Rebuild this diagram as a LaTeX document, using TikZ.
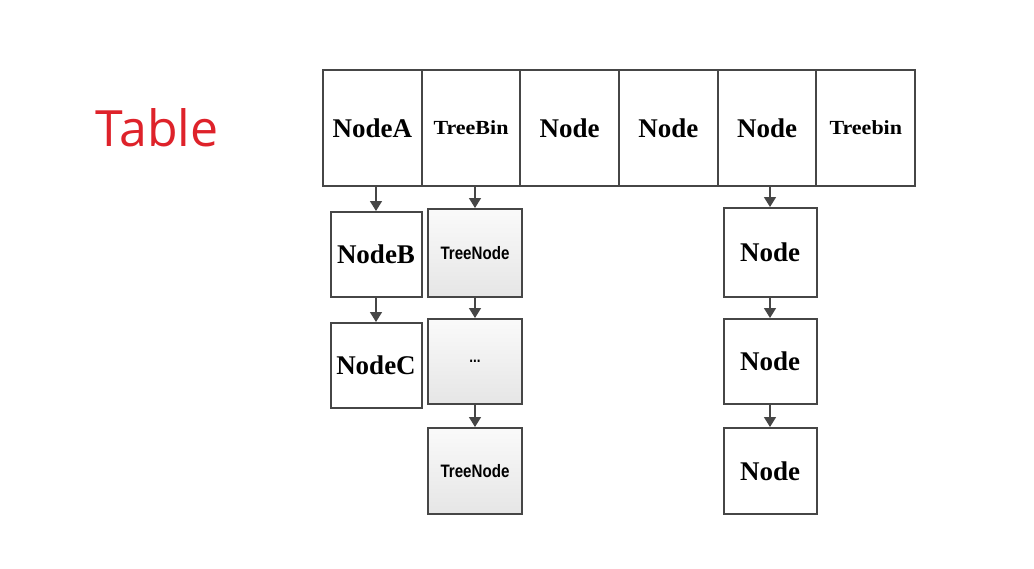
\documentclass[tikz,border=0pt]{standalone}
\usepackage{fontspec}
\setmainfont{Liberation Serif}
\newfontfamily\titlefont{Open Sans}
\newfontfamily\widebold[FakeStretch=1.1]{Liberation Serif}
\newfontfamily\narrowsans[FakeStretch=0.84]{Liberation Sans}
\usetikzlibrary{arrows.meta,positioning}
\definecolor{tablered}{RGB}{222,34,42}
\definecolor{boxline}{RGB}{70,70,70}
\newcommand{\binlabel}[1]{{\widebold\fontsize{20}{22}\selectfont\bfseries #1}}

\begin{document}
\begin{tikzpicture}[
    x=1pt,y=-1pt,
    node distance=20pt,
    cell/.style={rectangle,draw=boxline,line width=2pt,outer sep=0pt,inner sep=0pt,
      minimum width=98.7pt,minimum height=116pt,font=\fontsize{27}{30}\selectfont\bfseries},
    plain/.style={rectangle,draw=boxline,line width=2pt,fill=white,inner sep=0pt,
      minimum width=93pt,minimum height=86pt,font=\fontsize{27}{30}\selectfont\bfseries},
    tree/.style={rectangle,draw=boxline,line width=2pt,top color=gray!4,bottom color=gray!20,inner sep=0pt,
      minimum width=94pt,minimum height=86pt,font=\narrowsans\fontsize{18}{20}\selectfont\bfseries},
    arrow/.style={-{Triangle[length=10pt,width=12pt]},line width=1.5pt,draw=boxline}
  ]
    \useasboundingbox (0,0) rectangle (1034,568);
    \node[font=\titlefont\fontsize{50}{56}\selectfont,text=tablered] (title) at (157,128) {Table};

    % table row
    \node[cell] (nodeA) at (372.3,128) {NodeA};
    \node[cell,right=0pt of nodeA] (treeBin) {\binlabel{TreeBin}};
    \node[cell,right=0pt of treeBin] (node3) {Node};
    \node[cell,right=0pt of node3] (node4) {Node};
    \node[cell,right=0pt of node4] (node5) {Node};
    \node[cell,right=0pt of node5] (treebin) {\binlabel{Treebin}};

    % chains below the table
    \node[plain,minimum width=91pt,minimum height=85pt] (nodeB) at (376,254.5) {NodeB};
    \node[plain,minimum width=91pt,minimum height=85pt,below=24pt of nodeB] (nodeC) {NodeC};

    \node[tree,minimum height=88pt] (treeNodeA) at (475,253) {TreeNode};
    \node[tree,minimum height=85pt,below=of treeNodeA] (dots) {\fontsize{16}{18}\selectfont ...};
    \node[tree,below=22pt of dots] (treeNodeB) {TreeNode};

    \node[plain,minimum height=89pt] (listA) at (770,252.5) {Node};
    \node[plain,minimum height=85pt,below=of listA] (listB) {Node};
    \node[plain,below=22pt of listB] (listC) {Node};

    \draw[arrow] (nodeA.south -| nodeB) -- (nodeB);
    \draw[arrow] (nodeB) -- (nodeC);
    \draw[arrow] (treeBin.south -| treeNodeA) -- (treeNodeA);
    \draw[arrow] (treeNodeA) -- (dots);
    \draw[arrow] (dots) -- (treeNodeB);
    \draw[arrow] (node5.south -| listA) -- (listA);
    \draw[arrow] (listA) -- (listB);
    \draw[arrow] (listB) -- (listC);
  \end{tikzpicture}
\end{document}
